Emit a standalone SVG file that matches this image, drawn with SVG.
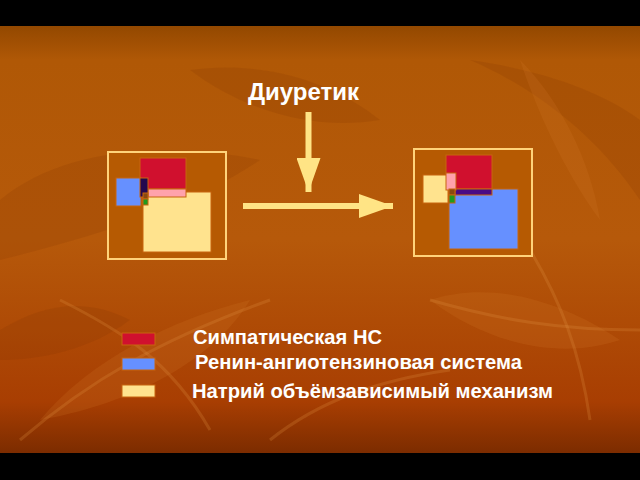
<svg xmlns="http://www.w3.org/2000/svg" width="640" height="480" viewBox="0 0 640 480">
  <defs>
    <linearGradient id="bg" x1="0" y1="0" x2="0" y2="1">
      <stop offset="0" stop-color="#934800"/>
      <stop offset="0.08" stop-color="#b05806"/>
      <stop offset="0.5" stop-color="#b6590a"/>
      <stop offset="0.88" stop-color="#a83e02"/>
      <stop offset="1" stop-color="#7c2c00"/>
    </linearGradient>
    <marker id="head" markerUnits="userSpaceOnUse" markerWidth="34" markerHeight="24" refX="34" refY="12" orient="auto">
      <path d="M0,0 L34,12 L0,24 Z" fill="#ffe485"/>
    </marker>
    <style>
      .frame { fill: #b65a02; stroke: #ffd37a; stroke-width: 2; }
      .b { stroke: #c8640e; stroke-width: 1; }
      .red { fill: #d0102e; }
      .blue { fill: #6690ff; }
      .yellow { fill: #ffe38e; }
      .pink { fill: #ffa2ac; }
      .navy { fill: #24084e; }
      .purple { fill: #4a0a84; }
      .green { fill: #1e9a1e; }
      .brown { fill: #8a4a10; }
      .txt { font-family: "Liberation Sans", Arial, sans-serif; font-weight: bold; fill: #ffffff; }
      .arrow { stroke: #ffe485; stroke-width: 6; fill: none; marker-end: url(#head); }
      .leafL { fill: #d07a28; opacity: 0.2; }
      .leafD { fill: #7a3000; opacity: 0.16; }
      .vein { stroke: #e09040; stroke-width: 3; opacity: 0.25; fill: none; }
    </style>
  </defs>

  <!-- background -->
  <rect x="0" y="0" width="640" height="480" fill="#000"/>
  <rect x="0" y="26" width="640" height="427" fill="url(#bg)"/>
  <g id="texture">
    <path class="leafD" d="M0,200 C60,150 160,140 260,160 C200,200 120,230 0,260 Z"/>
    <path class="leafD" d="M190,70 C260,60 330,80 380,120 C320,130 250,115 190,70 Z"/>
    <path class="leafD" d="M470,60 C540,90 600,140 640,200 L640,120 C600,90 540,70 470,60 Z"/>
    <path class="leafL" d="M40,420 C90,360 170,320 250,300 C220,350 150,400 40,420 Z"/>
    <path class="leafL" d="M430,300 C490,280 560,300 620,340 C560,360 490,345 430,300 Z"/>
    <path class="leafL" d="M520,60 C560,100 590,160 600,220 C570,180 540,120 520,60 Z"/>
    <path class="leafD" d="M0,330 C50,300 90,300 130,320 C90,350 40,360 0,360 Z"/>
    <path class="vein" d="M20,440 C90,380 160,340 270,300"/>
    <path class="vein" d="M60,300 C120,330 170,360 210,430"/>
    <path class="vein" d="M530,250 C560,300 580,350 590,420"/>
    <path class="vein" d="M430,300 C500,320 560,330 640,330"/>
    <path class="vein" d="M270,440 C320,400 380,380 450,370"/>
  </g>

  <!-- left system box -->
  <g id="box-before">
    <rect class="frame" x="108" y="152" width="118" height="107"/>
    <rect class="yellow b" x="143" y="192" width="68" height="60"/>
    <rect class="red b" x="140" y="158" width="46" height="31"/>
    <rect class="pink b" x="148" y="189" width="38" height="8"/>
    <rect class="blue b" x="116" y="178" width="25" height="28"/>
    <rect class="navy b" x="140" y="178" width="8" height="19"/>
    <rect class="brown b" x="143" y="193" width="5" height="6"/>
    <rect class="green b" x="143" y="199" width="5" height="6"/>
  </g>

  <!-- right system box -->
  <g id="box-after">
    <rect class="frame" x="414" y="149" width="118" height="107"/>
    <rect class="blue b" x="449" y="189" width="69" height="60"/>
    <rect class="red b" x="446" y="155" width="46" height="34"/>
    <rect class="purple b" x="455" y="189" width="37" height="6"/>
    <rect class="yellow b" x="423" y="175" width="25" height="28"/>
    <rect class="pink b" x="446" y="173" width="10" height="17"/>
    <rect class="brown b" x="449" y="189" width="6" height="6"/>
    <rect class="green b" x="449" y="195" width="6" height="8"/>
  </g>

  <!-- diuretic label -->
  <g id="diuretic">
    <text class="txt" x="248" y="100" font-size="23" textLength="111" lengthAdjust="spacingAndGlyphs">Диуретик</text>
  </g>

  <!-- connectors -->
  <g id="connectors">
    <line class="arrow" x1="308.5" y1="112" x2="308.5" y2="192"/>
    <line class="arrow" x1="243" y1="206" x2="393" y2="206"/>
  </g>

  <!-- legend -->
  <g id="legend-sympathetic">
    <rect class="red b" x="122" y="333" width="33" height="12"/>
    <text class="txt" x="193" y="344" font-size="20" textLength="189" lengthAdjust="spacingAndGlyphs">Симпатическая НС</text>
  </g>
  <g id="legend-raas">
    <rect class="blue b" x="122" y="358" width="33" height="12"/>
    <text class="txt" x="195" y="369" font-size="20" textLength="327" lengthAdjust="spacingAndGlyphs">Ренин-ангиотензиновая система</text>
  </g>
  <g id="legend-sodium">
    <rect class="yellow b" x="122" y="385" width="33" height="12"/>
    <text class="txt" x="192" y="398" font-size="20" textLength="361" lengthAdjust="spacingAndGlyphs">Натрий объёмзависимый механизм</text>
  </g>
</svg>
